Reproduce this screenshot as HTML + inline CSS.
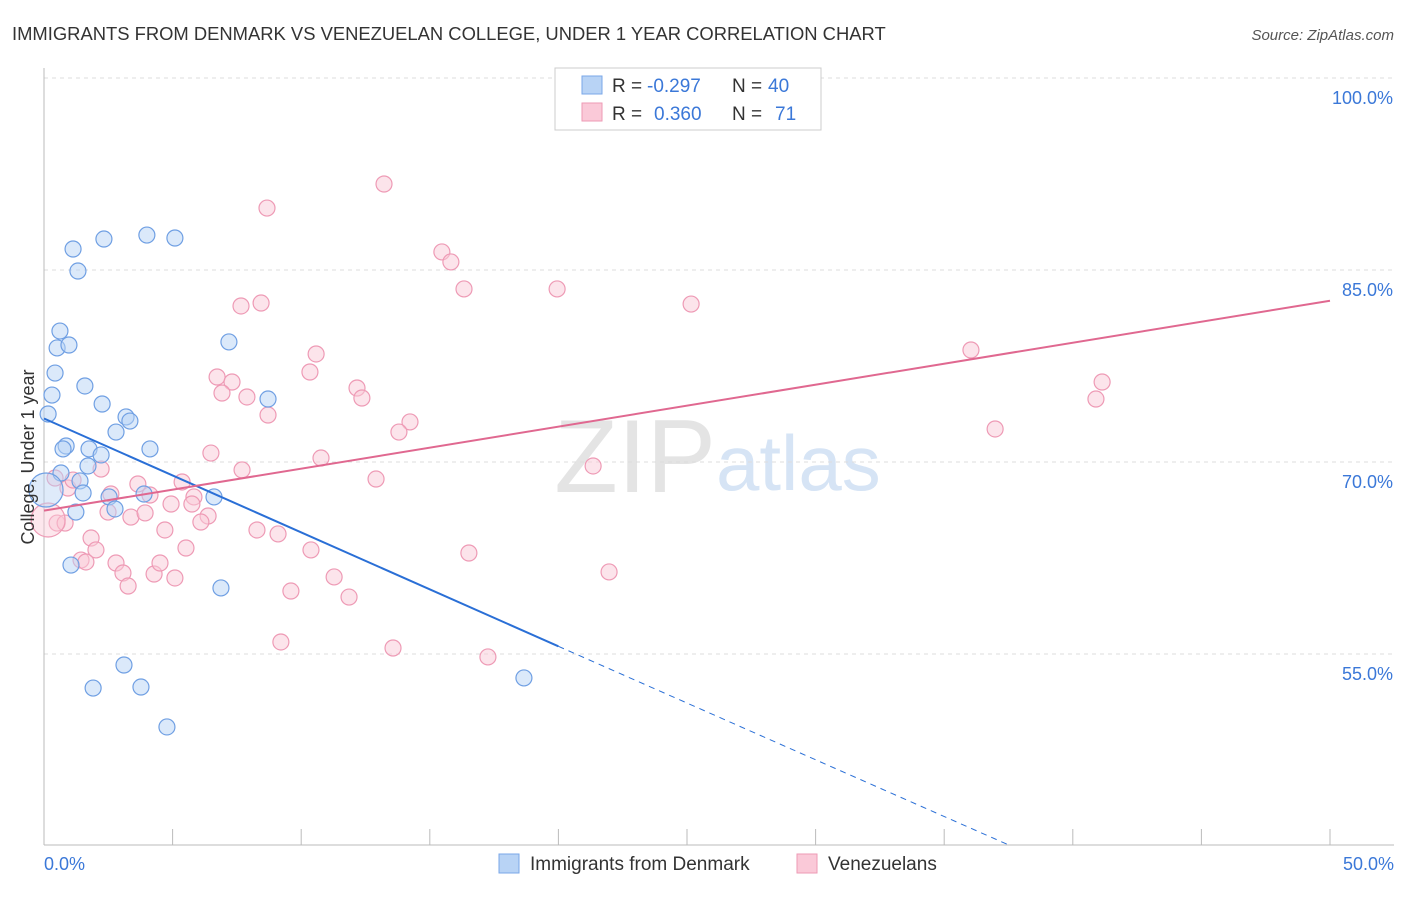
<!DOCTYPE html>
<html><head><meta charset="utf-8"><style>
body{margin:0;background:#fff;font-family:"Liberation Sans",sans-serif;}
svg text{font-family:"Liberation Sans",sans-serif;}
</style></head><body>
<svg id="chart" width="1406" height="892">
<text x="12" y="40" font-size="18.4" fill="#333">IMMIGRANTS FROM DENMARK VS VENEZUELAN COLLEGE, UNDER 1 YEAR CORRELATION CHART</text>
<text x="1394" y="40" font-size="15" fill="#555" font-style="italic" text-anchor="end">Source: ZipAtlas.com</text>
<text x="716" y="492" font-size="104" fill="#e4e4e4" text-anchor="end" font-family="Liberation Serif">ZIP</text>
<text x="716" y="490" font-size="78" fill="#d6e4f5">atlas</text>
<g id="grid"></g><g id="axes"></g><g id="pts"></g><g id="lines"></g>
<text transform="translate(34,457) rotate(-90)" font-size="18" fill="#333" text-anchor="middle">College, Under 1 year</text>
<text x="44" y="870" font-size="18" fill="#3b78d8">0.0%</text>
<text x="1394" y="870" font-size="18" fill="#3b78d8" text-anchor="end">50.0%</text>
<g>
<rect x="555" y="68" width="266" height="62" fill="#fff" stroke="#ccc"/>
<rect x="582" y="76" width="20" height="18" fill="#b8d3f5" stroke="#7aa7e8"/>
<rect x="582" y="103" width="20" height="18" fill="#fac9d8" stroke="#ee9ab5"/>
<text y="92" font-size="19" fill="#333"><tspan x="612">R =</tspan><tspan x="647" fill="#3b78d8">-0.297</tspan><tspan x="732">N =</tspan><tspan x="768" fill="#3b78d8">40</tspan></text>
<text y="120" font-size="19" fill="#333"><tspan x="612">R =</tspan><tspan x="654" fill="#3b78d8">0.360</tspan><tspan x="732">N =</tspan><tspan x="775" fill="#3b78d8">71</tspan></text>
</g>
<g>
<rect x="499" y="854" width="20" height="19" fill="#b8d3f5" stroke="#7aa7e8"/>
<text x="530" y="870" font-size="19" fill="#333">Immigrants from Denmark</text>
<rect x="797" y="854" width="20" height="19" fill="#fac9d8" stroke="#ee9ab5"/>
<text x="828" y="870" font-size="19" fill="#333">Venezuelans</text>
</g>
</svg>
<script>
const yTicks=[55,70,85,100];
const xTicks=[0,5,10,15,20,25,30,35,40,45,50];
const bluePx=[[48,414],[52,395],[55,373],[57,348],[60,331],[69,345],[73,249],[78,271],[104,239],[147,235],[175,238],[85,386],[102,404],[116,432],[126,417],[130,421],[150,449],[229,342],[268,399],[66,446],[63,449],[89,449],[101,455],[88,466],[61,473],[80,481],[83,493],[109,497],[115,509],[144,494],[76,512],[214,497],[221,588],[71,565],[124,665],[93,688],[141,687],[167,727],[524,678],[46,490]];
const pinkPx=[[384,184],[267,208],[442,252],[451,262],[464,289],[557,289],[691,304],[241,306],[261,303],[316,354],[310,372],[217,377],[232,382],[222,393],[247,397],[357,388],[362,398],[268,415],[410,422],[399,432],[971,350],[1102,382],[1096,399],[995,429],[211,453],[321,458],[242,470],[376,479],[593,466],[101,469],[68,488],[73,480],[111,494],[138,484],[150,495],[182,482],[194,497],[108,512],[131,517],[145,513],[171,504],[192,504],[208,516],[201,522],[257,530],[278,534],[165,530],[57,523],[65,523],[91,538],[96,550],[81,560],[86,562],[116,563],[123,573],[154,574],[160,563],[175,578],[128,586],[186,548],[311,550],[469,553],[609,572],[334,577],[349,597],[291,591],[281,642],[393,648],[488,657],[48,520],[55,478]];
const blueData=bluePx.map(p=>[+((p[0]-44)/25.72).toFixed(2),+(100-(p[1]-78)/12.8).toFixed(2)]);
const pinkData=pinkPx.map(p=>[+((p[0]-44)/25.72).toFixed(2),+(100-(p[1]-78)/12.8).toFixed(2)]);
const blueLine=[[0,73.4],[20,55.6],[37.6,40]];
const pinkLine=[[0,66.2],[50,82.6]];
const X=v=>44+v*25.72, Y=v=>78+(100-v)*12.8;
const NS="http://www.w3.org/2000/svg";
function mk(t,a,p){const e=document.createElementNS(NS,t);for(const k in a)e.setAttribute(k,a[k]);document.getElementById(p).appendChild(e);return e;}
yTicks.forEach(t=>{
 const l=mk('line',{x1:44,x2:1394,y1:Y(t),y2:Y(t),stroke:'#ddd','stroke-dasharray':'4,4'},'grid');
 
 
 const tx=mk('text',{x:1393,y:Y(t)+26,'font-size':18,fill:'#3b78d8','text-anchor':'end'},'grid');tx.textContent=t.toFixed(1)+'%';
 
 
});
const ax=mk('line',{x1:44,x2:44,y1:68,y2:845,stroke:'#bbb'},'axes');


const bx=mk('line',{x1:44,x2:1394,y1:845,y2:845,stroke:'#bbb'},'axes');


xTicks.forEach(t=>{const l=mk('line',{x1:X(t),x2:X(t),y1:829,y2:845,stroke:'#bbb'},'axes');
 
 });
function pts(d,fill,stroke,name){d.forEach((p,i)=>{const big=(i==d.length-1&&name=='denmark')||(name=='venezuelan'&&i==d.length-2);
 const c=mk('circle',{cx:X(p[0]),cy:Y(p[1]),r:big?17:8,fill:fill,'fill-opacity':big?0.45:0.5,stroke:stroke,'stroke-width':1.2},'pts');
 
 });}
pts(pinkData,'#fac9d8','#ee9ab5','venezuelan');
pts(blueData,'#b8d3f5','#6f9fe3','denmark');
let l1=mk('line',{x1:X(blueLine[0][0]),y1:Y(blueLine[0][1]),x2:X(blueLine[1][0]),y2:Y(blueLine[1][1]),stroke:'#2a6fd6','stroke-width':2},'lines');


let l2=mk('line',{x1:X(blueLine[1][0]),y1:Y(blueLine[1][1]),x2:X(blueLine[2][0]),y2:Y(blueLine[2][1]),stroke:'#2a6fd6','stroke-width':1,'stroke-dasharray':'6,5'},'lines');


let l3=mk('line',{x1:X(pinkLine[0][0]),y1:Y(pinkLine[0][1]),x2:X(pinkLine[1][0]),y2:Y(pinkLine[1][1]),stroke:'#e06890','stroke-width':2},'lines');


</script>
</body></html>
